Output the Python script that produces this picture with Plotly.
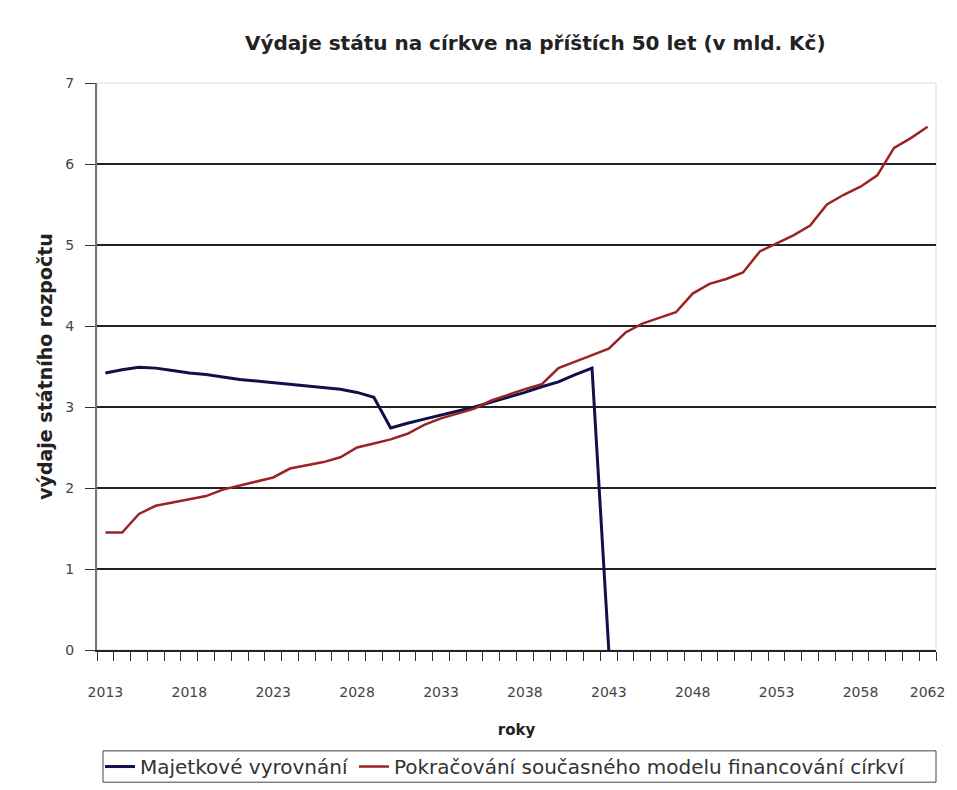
import plotly.graph_objects as go

years = list(range(2013, 2063))

# Majetkové vyrovnání (ends in 2043)
blue_years = list(range(2013, 2044))
blue_values = [3.42, 3.46, 3.49, 3.48, 3.45, 3.42, 3.40, 3.37, 3.34, 3.32,
               3.30, 3.28, 3.26, 3.24, 3.22, 3.18, 3.12, 2.74, 2.80, 2.85,
               2.90, 2.95, 3.00, 3.06, 3.12, 3.18, 3.25, 3.31, 3.40, 3.48,
               0.0]

# Pokračování současného modelu financování církví
red_values = [1.45, 1.45, 1.68, 1.78, 1.82, 1.86, 1.90, 1.98, 2.03, 2.08,
              2.13, 2.24, 2.28, 2.32, 2.38, 2.50, 2.55, 2.60, 2.67, 2.78,
              2.86, 2.92, 2.98, 3.08, 3.15, 3.22, 3.28, 3.48, 3.56, 3.64,
              3.72, 3.92, 4.03, 4.10, 4.17, 4.40, 4.52, 4.58, 4.66, 4.92,
              5.02, 5.12, 5.24, 5.50, 5.62, 5.72, 5.86, 6.20, 6.32, 6.46]

labeled_years = [2013, 2018, 2023, 2028, 2033, 2038, 2043, 2048, 2053, 2058, 2062]
y_ticks = [0, 1, 2, 3, 4, 5, 6, 7]

series_names = ["Majetkové vyrovnání",
                "Pokračování současného modelu financování církví"]

font_family = "DejaVu Sans, Verdana, sans-serif"

L, R, T, B = 89, 29, 75, 136
W, H = 957, 790
PW, PH = W - L - R, H - T - B


def px_x(x):
    return (x - L) / PW


def px_y(y):
    return (H - B - y) / PH


fig = go.Figure()
fig.add_trace(go.Scatter(x=blue_years, y=blue_values, mode="lines",
                         name=series_names[0],
                         line=dict(color="#10104a", width=3)))
fig.add_trace(go.Scatter(x=years, y=red_values, mode="lines",
                         name=series_names[1],
                         line=dict(color="#9a2424", width=2.5)))

fig.update_layout(
    width=W, height=H,
    margin=dict(l=L, r=R, t=T, b=B),
    paper_bgcolor="white", plot_bgcolor="white",
    font=dict(family=font_family, color="#333333", size=13),
    title=dict(text="<b>Výdaje státu na církve na příštích 50 let (v mld. Kč)</b>",
               x=0.551, xanchor="center", y=1 - 35 / H, yanchor="middle",
               font=dict(size=20, color="#222222")),
    showlegend=True,
    legend=dict(orientation="h", x=px_x(92), xanchor="left",
                y=px_y(773), yanchor="middle",
                bgcolor="rgba(0,0,0,0)", borderwidth=0,
                font=dict(size=20, color="#333333"),
                itemwidth=30, tracegroupgap=0),
)

fig.update_xaxes(
    range=[2012.5, 2062.5], automargin=False,
    tickmode="array", tickvals=labeled_years,
    ticks="", ticklabelstandoff=28,
    minor=dict(tickmode="linear", tick0=2012.5, dtick=1, ticks="outside",
               ticklen=9, tickcolor="#333333", tickwidth=1, showgrid=False),
    showline=True, linecolor="#222222", linewidth=2,
    showgrid=False, zeroline=False,
    tickfont=dict(size=14, color="#444444"),
    title=dict(text="<b>roky</b>", font=dict(size=15, color="#222222"), standoff=26),
)
fig.update_yaxes(
    range=[0, 7], automargin=False,
    tickmode="array", tickvals=y_ticks,
    ticks="outside", ticklen=10, tickcolor="#333333",
    ticklabelstandoff=8,
    showline=True, linecolor="#777777", linewidth=2,
    showgrid=True, gridcolor="#222222", gridwidth=1.5,
    zeroline=False,
    tickfont=dict(size=14, color="#444444"),
    title=dict(text="<b>výdaje státního rozpočtu</b>", font=dict(size=19, color="#222222"),
               standoff=8),
)

# faint frame on top and right of the plot area
fig.add_shape(type="rect", xref="paper", yref="paper", x0=0, y0=0, x1=1, y1=1,
              line=dict(color="#dddddd", width=1), layer="below")

# legend box spanning the width as in the original chart
fig.add_shape(type="rect", xref="paper", yref="paper",
              x0=px_x(95), x1=px_x(928), y0=px_y(789), y1=px_y(757),
              line=dict(color="#444444", width=1))

fig.write_html("out.html")
